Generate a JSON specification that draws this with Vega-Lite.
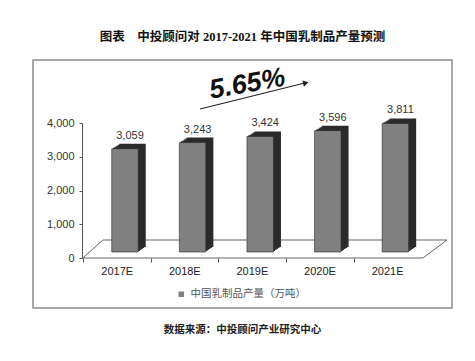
{
  "$schema": "https://vega.github.io/schema/vega-lite/v6.json",
  "width": 419,
  "height": 135,
  "autosize": "none",
  "padding": {"left": 33, "top": 123, "right": 23, "bottom": 103},
  "background": "white",
  "title": {
    "text": "图表　中投顾问对 2017-2021 年中国乳制品产量预测",
    "font": "Liberation Serif, Noto Sans CJK SC",
    "fontSize": 12.5,
    "fontWeight": "bold",
    "color": "#111111",
    "anchor": "middle",
    "frame": "group",
    "offset": 16
  },
  "config": {
    "view": {"stroke": null},
    "axis": {"grid": false}
  },
  "data": {
    "values": [
      {"year": "2017E", "value": 3059, "series": "中国乳制品产量（万吨）"},
      {"year": "2018E", "value": 3243, "series": "中国乳制品产量（万吨）"},
      {"year": "2019E", "value": 3424, "series": "中国乳制品产量（万吨）"},
      {"year": "2020E", "value": 3596, "series": "中国乳制品产量（万吨）"},
      {"year": "2021E", "value": 3811, "series": "中国乳制品产量（万吨）"}
    ]
  },
  "layer": [
    {
      "mark": {"type": "bar", "color": "#303030", "xOffset": 1.5, "x2Offset": 1.5, "yOffset": -7, "y2Offset": -7},
      "encoding": {
        "x": {
          "field": "year",
          "type": "nominal",
          "title": null,
          "scale": {"paddingInner": 0.608, "paddingOuter": 0.903, "align": 0.645},
          "axis": {
            "domain": false,
            "labelAngle": 0,
            "labelOffset": 33.5,
            "tickOffset": -41.8,
            "tickSize": 4,
            "tickColor": "#555555",
            "labelPadding": 3,
            "labelFont": "Liberation Sans",
            "labelFontSize": 11,
            "labelColor": "#222222"
          }
        },
        "y": {
          "field": "value",
          "type": "quantitative",
          "title": null,
          "scale": {"domain": [0, 4000], "nice": false, "zero": true},
          "axis": {
            "offset": -49,
            "values": [0, 1000, 2000, 3000, 4000],
            "tickCount": 5,
            "labelOverlap": false,
            "format": ",d",
            "domainColor": "#555555",
            "tickColor": "#555555",
            "tickSize": 3,
            "labelPadding": 5,
            "labelFont": "Liberation Sans",
            "labelFontSize": 11,
            "labelColor": "#333333"
          }
        }
      }
    },
    {
      "data": {"values": [{"k": "frame"}]},
      "mark": {"type": "rect", "fill": "#ffffff", "fillOpacity": 0, "stroke": "#8c8c8c", "strokeWidth": 1.5},
      "encoding": {
        "y": {"datum": 5867, "type": "quantitative", "title": null},
        "y2": {"datum": -1481}
      }
    },
    {
      "data": {"values": [{"k": "floor"}]},
      "mark": {"type": "rule", "color": "#555555", "strokeWidth": 0.9, "xOffset": -29, "x2Offset": 14.3},
      "encoding": {
        "x": {"datum": "2017E", "type": "nominal", "bandPosition": 0, "title": null},
        "x2": {"datum": "2021E", "bandPosition": 1},
        "y": {"datum": 0, "type": "quantitative", "title": null}
      }
    },
    {
      "data": {"values": [{"k": "floor"}]},
      "mark": {"type": "rule", "color": "#555555", "strokeWidth": 0.9, "xOffset": -8.75, "x2Offset": 38.3, "yOffset": -18},
      "encoding": {
        "x": {"datum": "2017E", "type": "nominal", "bandPosition": 0, "title": null},
        "x2": {"datum": "2021E", "bandPosition": 1},
        "y": {"datum": 0, "type": "quantitative", "title": null}
      }
    },
    {
      "data": {"values": [{"k": "floor"}]},
      "mark": {"type": "rule", "color": "#555555", "strokeWidth": 0.9, "xOffset": -29, "x2Offset": -8.75, "y2Offset": -18},
      "encoding": {
        "x": {"datum": "2017E", "type": "nominal", "bandPosition": 0, "title": null},
        "x2": {"datum": "2017E", "bandPosition": 0},
        "y": {"datum": 0, "type": "quantitative", "title": null},
        "y2": {"datum": 0}
      }
    },
    {
      "data": {"values": [{"k": "floor"}]},
      "mark": {"type": "rule", "color": "#555555", "strokeWidth": 0.9, "xOffset": 14.3, "x2Offset": 38.3, "y2Offset": -18},
      "encoding": {
        "x": {"datum": "2021E", "type": "nominal", "bandPosition": 1, "title": null},
        "x2": {"datum": "2021E", "bandPosition": 1},
        "y": {"datum": 0, "type": "quantitative", "title": null},
        "y2": {"datum": 0}
      }
    },
    {
      "mark": {"type": "bar", "color": "#303030", "xOffset": 1.5, "x2Offset": 1.5, "yOffset": -7, "y2Offset": -7},
      "encoding": {
        "x": {"field": "year", "type": "nominal", "title": null},
        "y": {"field": "value", "type": "quantitative", "title": null}
      }
    },
    {
      "mark": {"type": "bar", "color": "#303030", "xOffset": 3, "x2Offset": 3, "yOffset": -8, "y2Offset": -8},
      "encoding": {
        "x": {"field": "year", "type": "nominal", "title": null},
        "y": {"field": "value", "type": "quantitative", "title": null}
      }
    },
    {
      "mark": {"type": "bar", "color": "#303030", "xOffset": 4.5, "x2Offset": 4.5, "yOffset": -9, "y2Offset": -9},
      "encoding": {
        "x": {"field": "year", "type": "nominal", "title": null},
        "y": {"field": "value", "type": "quantitative", "title": null}
      }
    },
    {
      "mark": {"type": "bar", "color": "#303030", "xOffset": 6, "x2Offset": 6, "yOffset": -10, "y2Offset": -10},
      "encoding": {
        "x": {"field": "year", "type": "nominal", "title": null},
        "y": {"field": "value", "type": "quantitative", "title": null}
      }
    },
    {
      "mark": {"type": "bar", "color": "#2a2a2a", "xOffset": 7.5, "x2Offset": 7.5, "yOffset": -11, "y2Offset": -11},
      "encoding": {
        "x": {"field": "year", "type": "nominal", "title": null},
        "y": {"field": "value", "type": "quantitative", "title": null}
      }
    },
    {
      "mark": {"type": "bar", "stroke": "#2a2a2a", "strokeWidth": 0.6, "yOffset": -6, "y2Offset": -6},
      "encoding": {
        "x": {"field": "year", "type": "nominal", "title": null},
        "y": {"field": "value", "type": "quantitative", "title": null},
        "color": {
          "field": "series",
          "type": "nominal",
          "scale": {"range": ["#808080"]},
          "legend": {
            "orient": "none",
            "legendX": 143,
            "legendY": 166,
            "direction": "horizontal",
            "title": null,
            "symbolType": "square",
            "symbolSize": 30,
            "symbolStrokeWidth": 0,
            "labelFont": "Noto Sans CJK SC",
            "labelFontSize": 10.5,
            "labelColor": "#555555"
          }
        }
      }
    },
    {
      "mark": {"type": "text", "dx": 5, "dy": -16, "baseline": "alphabetic", "font": "Liberation Sans", "fontSize": 11, "color": "#333333"},
      "encoding": {
        "x": {"field": "year", "type": "nominal", "title": null},
        "y": {"field": "value", "type": "quantitative", "title": null},
        "text": {"field": "value", "type": "quantitative", "format": ",d"}
      }
    },
    {
      "data": {"values": [{"label": "5.65%"}]},
      "mark": {"type": "text", "dx": 5, "angle": 350, "baseline": "middle", "align": "center", "font": "Liberation Sans", "fontSize": 27, "fontWeight": "bold", "fontStyle": "italic", "color": "#111111"},
      "encoding": {
        "y": {"datum": 5126, "type": "quantitative", "title": null},
        "text": {"field": "label"}
      }
    },
    {
      "data": {"values": [{"k": "arrow"}]},
      "mark": {"type": "rule", "color": "#222222", "strokeWidth": 1.2, "xOffset": 7.5, "x2Offset": -23},
      "encoding": {
        "x": {"datum": "2018E", "type": "nominal", "title": null},
        "x2": {"datum": "2020E"},
        "y": {"datum": 4415, "type": "quantitative", "title": null},
        "y2": {"datum": 5185}
      }
    },
    {
      "data": {"values": [{"k": "arrowhead"}]},
      "mark": {"type": "point", "shape": "triangle-right", "filled": true, "color": "#222222", "size": 40, "angle": 346, "xOffset": -22, "opacity": 1},
      "encoding": {
        "x": {"datum": "2020E", "type": "nominal", "title": null},
        "y": {"datum": 5185, "type": "quantitative", "title": null}
      }
    },
    {
      "data": {"values": [{"source": "数据来源：中投顾问产业研究中心"}]},
      "mark": {"type": "text", "baseline": "middle", "align": "center", "font": "Noto Sans CJK SC", "fontSize": 10.5, "fontWeight": "bold", "color": "#222222"},
      "encoding": {
        "y": {"datum": -2133, "type": "quantitative", "title": null},
        "text": {"field": "source"}
      }
    }
  ]
}
